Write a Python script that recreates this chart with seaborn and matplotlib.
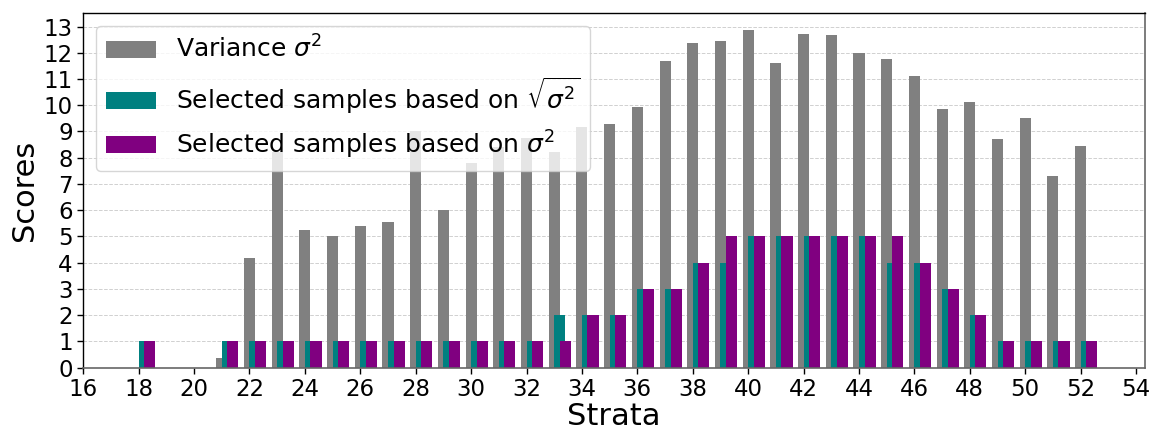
import numpy as np
import pandas as pd
import matplotlib
matplotlib.use("Agg")
import matplotlib.pyplot as plt
import seaborn as sns

# Variance per stratum
var_strata = [21, 22, 23, 24, 25, 26, 27, 28, 29, 30, 31, 32, 33, 34, 35, 36,
              37, 38, 39, 40, 41, 42, 43, 44, 45, 46, 47, 48, 49, 50, 51, 52]
variance = [0.38, 4.17, 8.2, 5.26, 5.0, 5.4, 5.55, 9.03, 6.0, 7.79, 8.42, 8.76,
            8.23, 9.16, 9.3, 9.92, 11.7, 12.36, 12.45, 12.86, 11.6, 12.72, 12.66,
            12.0, 11.76, 11.11, 9.86, 10.12, 8.71, 9.5, 7.31, 8.45]

# Number of samples selected per stratum
sel_strata = [18, 21, 22, 23, 24, 25, 26, 27, 28, 29, 30, 31, 32, 33, 34, 35, 36,
              37, 38, 39, 40, 41, 42, 43, 44, 45, 46, 47, 48, 49, 50, 51, 52]
sel_sqrt = [1, 1, 1, 1, 1, 1, 1, 1, 1, 1, 1, 1, 1, 2, 2, 2, 3,
            3, 4, 4, 5, 5, 5, 5, 5, 4, 4, 3, 2, 1, 1, 1, 1]
sel_var = [1, 1, 1, 1, 1, 1, 1, 1, 1, 1, 1, 1, 1, 1, 2, 2, 3,
           3, 4, 5, 5, 5, 5, 5, 5, 5, 4, 3, 2, 1, 1, 1, 1]

x_ticks = list(range(16, 55, 2))
y_ticks = list(range(0, 14))

labels = [r"Variance $\sigma^2$",
          r"Selected samples based on $\sqrt{\sigma^2}$",
          r"Selected samples based on $\sigma^2$"]

sns.set_style("white")
plt.rcParams["font.family"] = ["DejaVu Sans"]
plt.rcParams["mathtext.fontset"] = "dejavusans"
plt.rcParams["text.color"] = "black"
plt.rcParams["axes.labelcolor"] = "black"
plt.rcParams["xtick.color"] = "black"
plt.rcParams["ytick.color"] = "black"

fig = plt.figure(figsize=(11.53, 4.32), dpi=100)
ax = fig.add_axes([0.0722, 0.149, 0.9208, 0.820])

bar_w = 0.4
series = [
    (np.array(var_strata, dtype=float), variance, "gray", 0.0),
    (np.array(sel_strata, dtype=float), sel_sqrt, "teal", 0.2),
    (np.array(sel_strata, dtype=float), sel_var, "purple", 0.4),
]
for (xs, ys, col, off), lab in zip(series, labels):
    df = pd.DataFrame({"x": xs + off, "y": ys})
    sns.barplot(data=df, x="x", y="y", native_scale=True, width=bar_w,
                color=col, saturation=1, errorbar=None, linewidth=0,
                label=lab, ax=ax, zorder=2)

ax.set_xlim(16, 54.32)
ax.set_ylim(0, 13.5)
ax.set_xticks(x_ticks)
ax.set_yticks(y_ticks)
ax.tick_params(axis="both", labelsize=16.5, length=4, width=1, direction="out",
               bottom=True, left=True, colors="black")
ax.yaxis.grid(True, linestyle="--", color="#d0d0d0", linewidth=0.7, zorder=0)
ax.xaxis.grid(False)
ax.set_axisbelow(True)

for side in ["left", "top"]:
    ax.spines[side].set_color("black")
    ax.spines[side].set_linewidth(1.0)
for side in ["right", "bottom"]:
    ax.spines[side].set_color("#666666")
    ax.spines[side].set_linewidth(1.2)

ax.set_xlabel("Strata", fontsize=22, labelpad=1)
ax.set_ylabel("Scores", fontsize=22, labelpad=3)

handles, hl = ax.get_legend_handles_labels()
ax.legend(handles, hl, loc="upper left", fontsize=18, frameon=True,
          framealpha=0.8, edgecolor="#cccccc", fancybox=True)

fig.savefig("out.png", dpi=100)
